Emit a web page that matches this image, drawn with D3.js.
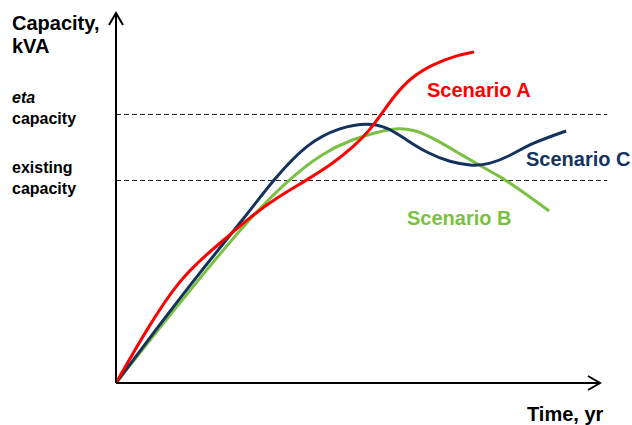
<!DOCTYPE html>
<html>
<head>
<meta charset="utf-8">
<script src="https://cdn.jsdelivr.net/npm/d3@7"></script>
<style>
  body { margin: 0; background: #fff; }
  text { font-family: "Liberation Sans", Arial, sans-serif; font-weight: bold; }
</style>
</head>
<body>
<div id="chart"></div>
<script>
(function () {

  var w = 632;
  var h = 425;

  // scenario curves (time in yr, capacity in kVA, arbitrary units)
  var aTime = [0, 1.3, 2.6, 3.8, 4.7, 5.5, 6.5, 7.9, 9, 9.8, 10.4, 11, 11.5, 12.15, 13.1, 14.1, 14.8];
  var aCap  = [0, 14.9, 27.8, 35.1, 40, 44.6, 49.5, 54.9, 59.5, 63.8, 67.6, 73, 77.6, 82.4, 86.2, 88.6, 89.5];

  var bTime = [0, 1.8, 3.6, 5.4, 7.1, 8.55, 9.7, 10.8, 11.5, 12.3, 13.1, 14.1, 15, 15.9, 16.7, 17.9];
  var bCap  = [0, 14.9, 29.4, 43.6, 54.9, 62.2, 65.7, 67.8, 68.9, 68.6, 66.2, 62.4, 58.9, 55.7, 52.2, 46.5];

  var cTime = [0, 1.7, 3.5, 5.4, 6.5, 7.9, 9.3, 10.4, 11.2, 12, 12.85, 13.8, 14.75, 15.45, 16.2, 17.2, 18.6];
  var cCap  = [0, 14.9, 30.2, 45.4, 54.9, 64.9, 69.2, 70.3, 69.2, 65.7, 62.2, 59.7, 58.6, 59.2, 61.1, 64.9, 68.1];

  // reference levels
  var levels = [72.7, 54.9];
  var levelNames = [["eta", "capacity"], ["existing", "capacity"]];

  var x = d3.scaleLinear().domain([0, 20]).range([116, 600]);
  var y = d3.scaleLinear().domain([0, 100]).range([383, 13]);

  var svg = d3.select("#chart")
    .append("svg")
    .attr("width", w)
    .attr("height", h);

  // dashed capacity levels
  svg.selectAll(".level")
    .data(levels)
    .enter().append("line")
    .attr("class", "level")
    .attr("x1", x(0))
    .attr("x2", x(20.3))
    .attr("y1", function (d) { return Math.round(y(d)) + 0.5; })
    .attr("y2", function (d) { return Math.round(y(d)) + 0.5; })
    .attr("stroke", "#222")
    .attr("stroke-width", 1)
    .style("stroke-dasharray", "5,3");

  var line = d3.line()
    .x(function (d) { return x(d[0]); })
    .y(function (d) { return y(d[1]); })
    .curve(d3.curveBasis);

  var series = [
    { t: bTime, v: bCap, color: "#7ac143" },
    { t: cTime, v: cCap, color: "#15325f" },
    { t: aTime, v: aCap, color: "#ff0000" }
  ];

  series.forEach(function (s) {
    var pts = s.t.map(function (t, i) { return [t, s.v[i]]; });
    svg.append("path")
      .datum(pts)
      .attr("d", line)
      .attr("fill", "none")
      .attr("stroke", s.color)
      .attr("stroke-width", 3);
  });

  // axes with open arrow heads
  svg.append("line")
    .attr("x1", x(0)).attr("y1", y(0))
    .attr("x2", x(0)).attr("y2", y(100))
    .attr("stroke", "#000").attr("stroke-width", 2);

  svg.append("line")
    .attr("x1", x(0)).attr("y1", y(0))
    .attr("x2", x(20)).attr("y2", y(0))
    .attr("stroke", "#000").attr("stroke-width", 2);

  svg.append("path")
    .attr("d", "M" + (x(0) - 7) + "," + (y(100) + 12) + "L" + x(0) + "," + y(100) + "L" + (x(0) + 7) + "," + (y(100) + 12))
    .attr("fill", "none").attr("stroke", "#000").attr("stroke-width", 2);

  svg.append("path")
    .attr("d", "M" + (x(20) - 12) + "," + (y(0) - 7) + "L" + x(20) + "," + y(0) + "L" + (x(20) - 12) + "," + (y(0) + 7))
    .attr("fill", "none").attr("stroke", "#000").attr("stroke-width", 2);

  // axis titles
  svg.append("text").attr("x", 12).attr("y", 30).attr("font-size", 20).text("Capacity,");
  svg.append("text").attr("x", 12).attr("y", 53).attr("font-size", 20).text("kVA");
  svg.append("text").attr("x", 527).attr("y", 421).attr("font-size", 20).text("Time, yr");

  // level labels
  levelNames.forEach(function (n, i) {
    var base = i === 0 ? 103 : 173;
    svg.append("text").attr("x", 12).attr("y", base).attr("font-size", 16)
      .style("font-style", i === 0 ? "italic" : "normal").text(n[0]);
    svg.append("text").attr("x", 12).attr("y", base + 21).attr("font-size", 16).text(n[1]);
  });

  // scenario labels
  svg.append("text").attr("x", 427).attr("y", 97).attr("font-size", 20)
    .style("fill", "#ff0000").text("Scenario A");
  svg.append("text").attr("x", 407).attr("y", 225).attr("font-size", 20)
    .style("fill", "#7ac143").text("Scenario B");
  svg.append("text").attr("x", 526).attr("y", 166).attr("font-size", 20)
    .style("fill", "#15325f").text("Scenario C");

})();
</script>
</body>
</html>
